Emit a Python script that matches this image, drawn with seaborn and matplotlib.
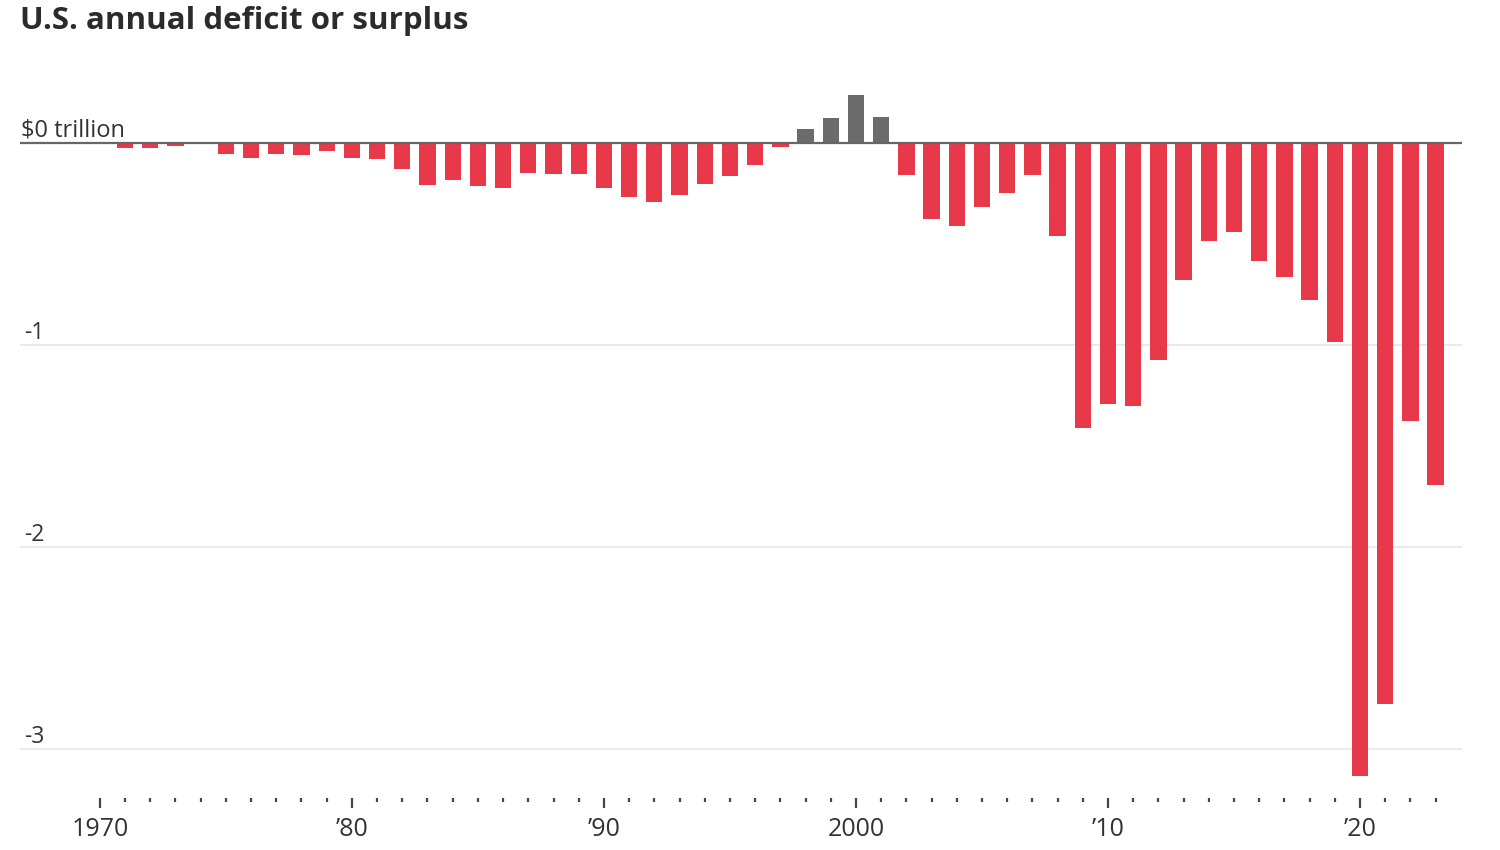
import numpy as np
import pandas as pd
import matplotlib
matplotlib.use("Agg")
import matplotlib.pyplot as plt
import seaborn as sns

# --- data: U.S. federal deficit (-) / surplus (+), trillions of dollars ---
years = list(range(1970, 2024))
balance = [
    -0.0028, -0.0230, -0.0234, -0.0149, -0.0061, -0.0532, -0.0737, -0.0537, -0.0592, -0.0407,
    -0.0738, -0.0790, -0.1280, -0.2078, -0.1854, -0.2123, -0.2212, -0.1497, -0.1552, -0.1526,
    -0.2210, -0.2692, -0.2903, -0.2551, -0.2032, -0.1640, -0.1074, -0.0219, 0.0693, 0.1256,
    0.2362, 0.1282, -0.1578, -0.3776, -0.4127, -0.3183, -0.2482, -0.1607, -0.4586, -1.4127,
    -1.2944, -1.2996, -1.0766, -0.6795, -0.4846, -0.4420, -0.5847, -0.6654, -0.7791, -0.9836,
    -3.1325, -2.7753, -1.3755, -1.6950,
]
major_years = [1970, 1980, 1990, 2000, 2010, 2020]
major_labels = ["1970", "\u201980", "\u201990", "2000", "\u201910", "\u201920"]
y_ticks = [-1, -2, -3]
y_labels = ["-1", "-2", "-3"]

df = pd.DataFrame({"year": years, "balance": balance})
df["kind"] = np.where(df["balance"] >= 0, "surplus", "deficit")

RED = "#e8394a"
GREY = "#6b6b6b"
TEXT = "#333333"

sns.set_theme(style="white")
plt.rcParams["font.family"] = ["Open Sans", "DejaVu Sans"]

fig = plt.figure(figsize=(15, 8.5), dpi=100)
# zero at y=143px, 202px per trillion
ax = fig.add_axes([20 / 1500, 1 - 798 / 850, 1442 / 1500, 738 / 850])

sns.barplot(data=df, x="year", y="balance", hue="kind",
            palette={"deficit": RED, "surplus": GREY},
            native_scale=True, width=0.65, legend=False, ax=ax,
            saturation=1, linewidth=0)

x0, x1 = 1966.83, 2024.05
ax.set_xlim(x0, x1)
ax.set_ylim(-(798 - 143) / 202, (143 - 60) / 202)

# gridlines and zero line
for t in y_ticks:
    ax.axhline(t, color="#e6e6e6", lw=1.2, zorder=0)
ax.axhline(0, color="#666666", lw=1.6, zorder=3)

# y labels sit above their gridlines at the left edge
for t, lab in zip(y_ticks, y_labels):
    ax.text(x0 + 0.15, t + 0.03, lab, fontsize=16.5, color=TEXT, ha="left", va="baseline")
ax.text(x0 + 0.05, 0.03, "$0 trillion", fontsize=17, color=TEXT, ha="left", va="baseline")

ax.set_yticks([])
ax.set_xticks(major_years)
ax.set_xticklabels(major_labels, fontsize=18, color=TEXT)
ax.set_xticks(years, minor=True)
ax.tick_params(axis="x", which="major", direction="out", length=7, width=1.6,
               color="#444444", pad=7, bottom=True)
ax.tick_params(axis="x", which="minor", direction="out", length=3, width=1.6,
               color="#444444", bottom=True)
ax.set_xlabel("")
ax.set_ylabel("")
for s in ax.spines.values():
    s.set_visible(False)

fig.text(20 / 1500, 1 - 21 / 850, "U.S. annual deficit or surplus",
         fontsize=22.5, fontweight="bold", color="#2b2b2b",
         family=["Open Sans", "DejaVu Sans"], ha="left", va="center")

fig.savefig("out.png", dpi=100, facecolor="white")
